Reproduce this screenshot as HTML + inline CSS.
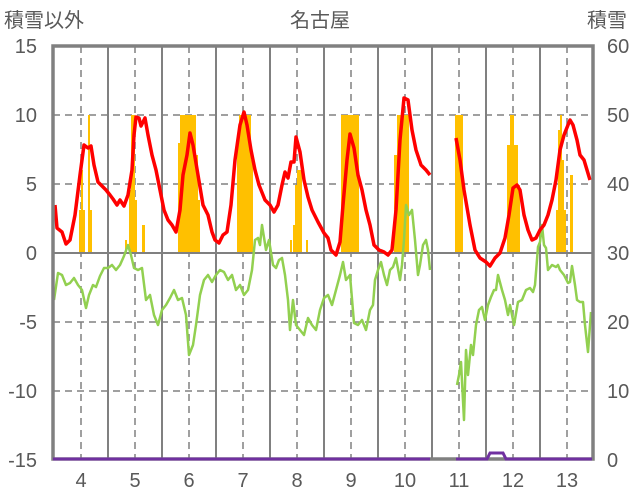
<!DOCTYPE html><html><head><meta charset="utf-8"><style>body{margin:0;background:#fff}svg{display:block}text{font-family:"Liberation Sans","Noto Sans CJK JP",sans-serif;fill:#595959;font-size:20px}</style></head><body>
<svg width="636" height="501" viewBox="0 0 636 501">
<g stroke="#808080" stroke-width="1.5" stroke-dasharray="7,5">
<line x1="53" y1="115" x2="593" y2="115"/><line x1="53" y1="184" x2="593" y2="184"/><line x1="53" y1="322" x2="593" y2="322"/><line x1="53" y1="391" x2="593" y2="391"/>
<line x1="81" y1="46" x2="81" y2="459"/><line x1="135" y1="46" x2="135" y2="459"/><line x1="189" y1="46" x2="189" y2="459"/><line x1="243" y1="46" x2="243" y2="459"/><line x1="297" y1="46" x2="297" y2="459"/><line x1="351" y1="46" x2="351" y2="459"/><line x1="405" y1="46" x2="405" y2="459"/><line x1="459" y1="46" x2="459" y2="459"/><line x1="513" y1="46" x2="513" y2="459"/><line x1="567" y1="46" x2="567" y2="459"/>
</g>
<g stroke="#808080" stroke-width="2">
<line x1="108" y1="46" x2="108" y2="459"/><line x1="162" y1="46" x2="162" y2="459"/><line x1="216" y1="46" x2="216" y2="459"/><line x1="270" y1="46" x2="270" y2="459"/><line x1="324" y1="46" x2="324" y2="459"/><line x1="378" y1="46" x2="378" y2="459"/><line x1="432" y1="46" x2="432" y2="459"/><line x1="486" y1="46" x2="486" y2="459"/><line x1="540" y1="46" x2="540" y2="459"/>
</g>
<g fill="#FFC000">
<rect x="79" y="210" width="2" height="43"/><rect x="81" y="170" width="2" height="83"/><rect x="83" y="210" width="2" height="43"/><rect x="88" y="115" width="2" height="138"/><rect x="90" y="210" width="2" height="43"/>
<rect x="125" y="240" width="2" height="13"/><rect x="129" y="190" width="2" height="63"/><rect x="131" y="115" width="4" height="138"/><rect x="135" y="200" width="2" height="53"/><rect x="142" y="225" width="3" height="28"/>
<rect x="178" y="143" width="2" height="110"/><rect x="180" y="115" width="16" height="138"/><rect x="196" y="155" width="2" height="98"/><rect x="198" y="200" width="2" height="53"/>
<rect x="237" y="145" width="2" height="108"/><rect x="239" y="115" width="12" height="138"/><rect x="251" y="160" width="2" height="93"/>
<rect x="290" y="240" width="2" height="13"/><rect x="293" y="225" width="2" height="28"/><rect x="295" y="185" width="2" height="68"/><rect x="297" y="170" width="5" height="83"/><rect x="306" y="240" width="2" height="13"/>
<rect x="341" y="115" width="18" height="138"/>
<rect x="394" y="155" width="3" height="98"/><rect x="397" y="115" width="12" height="138"/>
<rect x="455" y="115" width="8" height="138"/>
<rect x="507" y="145" width="3" height="108"/><rect x="510" y="115" width="4" height="138"/><rect x="514" y="145" width="4" height="108"/><rect x="518" y="185" width="2" height="68"/>
<rect x="556" y="210" width="2" height="43"/><rect x="558" y="130" width="2" height="123"/><rect x="560" y="115" width="2" height="138"/><rect x="562" y="160" width="2" height="93"/><rect x="564" y="210" width="2" height="43"/><rect x="570" y="175" width="3" height="78"/>
</g>
<line x1="53" y1="253" x2="593" y2="253" stroke="#808080" stroke-width="2"/>
<g fill="none" stroke-linejoin="round">
<polyline stroke="#92D050" stroke-width="2.5" points="54,300 58,273 62,275 66,285 70,283 74,278 78,285 82,290 86,308 89,295 93,285 96,287 100,276 104,268 108,268 112,265 116,270 120,265 124,256 128,245 131,255 134,268 138,270 142,268 146,300 150,295 154,315 158,325 162,310 166,305 170,298 174,290 178,300 182,298 186,315 189,355 193,345 196,325 200,295 204,280 208,275 212,282 216,275 220,270 224,272 228,280 232,275 236,290 240,285 244,295 248,290 252,270 255,240 258,238 260,245 262,225 266,250 269,240 273,265 276,268 279,260 282,258 285,275 288,300 290,330 293,300 296,325 300,330 304,335 308,318 312,325 316,330 320,310 324,298 328,295 332,305 336,290 340,275 343,262 346,280 350,275 354,323 358,325 362,320 366,330 370,310 373,305 375,280 378,270 381,262 384,275 387,285 390,270 393,267 396,258 400,280 402,265 404,240 406,205 409,215 412,210 415,240 418,275 420,265 423,245 426,240 428,250 430,270"/>
<polyline stroke="#92D050" stroke-width="2.5" points="457,385 459,375 461,362 464,420 466,350 468,375 471,345 473,355 476,325 479,310 482,307 485,320 488,305 491,297 494,290 496,290 498,275 502,290 505,300 508,315 510,305 514,325 518,302 522,300 526,290 530,288 533,292 535,285 538,247 540,242 542,225 544,245 546,248 548,270 552,265 556,267 558,265 560,270 564,275 568,283 570,282 572,266 575,285 577,300 580,302 583,302 585,325 588,352 591,312"/>
<polyline stroke="#FF0000" stroke-width="3.5" points="55,205 57,228 62,232 66,244 70,240 75,215 80,175 84,145 88,148 91,146 94,165 98,182 101,185 106,190 110,195 113,199 117,205 120,200 124,206 128,195 132,170 134,135 136,117 139,118 141,126 145,118 148,135 152,155 156,170 160,190 164,210 168,220 172,225 176,232 180,210 183,175 187,155 190,133 193,145 198,175 203,205 208,215 212,232 215,240 219,243 223,235 227,232 231,205 235,160 240,125 244,112 247,125 251,150 255,170 259,185 265,200 270,205 274,212 278,205 282,185 285,172 288,178 291,162 294,162 296,137 300,152 304,180 308,197 312,210 318,222 324,233 328,238 331,250 336,255 340,242 343,205 347,160 350,134 354,148 358,175 362,190 366,210 370,225 374,245 379,250 384,252 388,255 392,250 396,210 400,140 404,98 408,100 412,130 416,150 421,165 426,170 430,175"/>
<polyline stroke="#FF0000" stroke-width="3.5" points="456,138 460,160 464,190 470,225 475,250 480,258 486,262 490,266 495,258 500,253 505,238 509,215 513,188 517,185 520,190 524,215 528,230 532,240 536,238 540,230 544,225 548,215 552,200 556,180 560,150 564,135 570,120 573,125 577,140 580,155 584,160 587,170 590,180"/>
</g>
<rect x="53" y="46" width="540" height="413" fill="none" stroke="#808080" stroke-width="3.5"/>
<polyline fill="none" stroke="#7030A0" stroke-width="3" points="53,459 430,459"/>
<polyline fill="none" stroke="#7030A0" stroke-width="3" points="456,459 487,459 490,453 503,453 506,459 592,459"/>
<text x="320" y="27" text-anchor="middle">名古屋</text>
<text x="4" y="27">積雪以外</text>
<text x="587" y="27">積雪</text>
<g text-anchor="end"><text x="37" y="53">15</text><text x="37" y="122">10</text><text x="37" y="191">5</text><text x="37" y="260">0</text><text x="37" y="329">-5</text><text x="37" y="398">-10</text><text x="37" y="467">-15</text></g>
<g><text x="607" y="53">60</text><text x="607" y="122">50</text><text x="607" y="191">40</text><text x="607" y="260">30</text><text x="607" y="329">20</text><text x="607" y="398">10</text><text x="607" y="467">0</text></g>
<g text-anchor="middle"><text x="81" y="487">4</text><text x="135" y="487">5</text><text x="189" y="487">6</text><text x="243" y="487">7</text><text x="297" y="487">8</text><text x="351" y="487">9</text><text x="405" y="487">10</text><text x="459" y="487">11</text><text x="513" y="487">12</text><text x="567" y="487">13</text></g>
</svg></body></html>
